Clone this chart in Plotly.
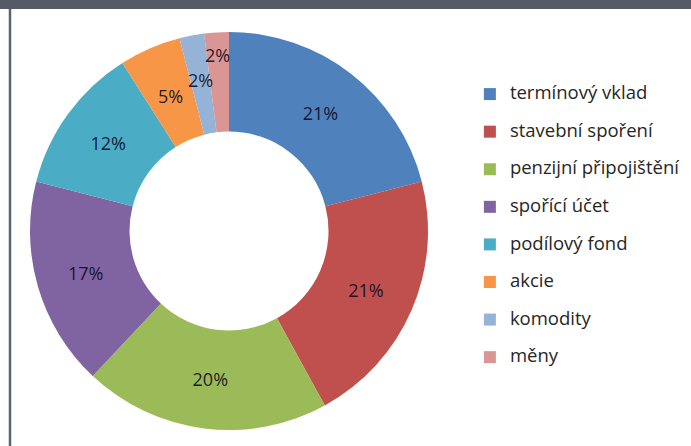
import math
import plotly.graph_objects as go

labels = ["termínový vklad", "stavební spoření", "penzijní připojištění",
          "spořící účet", "podílový fond", "akcie", "komodity", "měny"]
values = [21, 21, 20, 17, 12, 5, 2, 2]
colors = ["#4f81bd", "#c0504d", "#9bbb59", "#8064a2",
          "#4bacc6", "#f79646", "#95b3d7", "#da9694"]

W, H = 691, 446
cx, cy, r = 229, 231, 199
label_font = dict(family="Open Sans", size=18, color="rgba(10,10,30,0.9)")

# legend labels: larger text span plus a blank second line for Excel-like spacing
legend_names = ["<span style='font-size:18.5px'>%s</span><br> " % l for l in labels]

# small slices get their labels placed as annotations (radius factor per label)
small_label_radius = {5: 0.74, 6: 0.775, 7: 0.885}
texts = ["" if i in small_label_radius else "%{percent:.0%}" for i in range(len(values))]

fig = go.Figure(go.Pie(
    labels=legend_names,
    values=values,
    marker=dict(colors=colors, line=dict(width=0)),
    hole=0.5,
    sort=False,
    direction="clockwise",
    rotation=0,
    texttemplate=texts,
    textposition="inside",
    insidetextorientation="horizontal",
    textfont=label_font,
    hoverinfo="skip",
    domain=dict(x=[(cx - r) / W, (cx + r) / W],
                y=[(H - cy - r) / H, (H - cy + r) / H]),
))

total = sum(values)
annotations = []
cum = 0
for i, v in enumerate(values):
    start = cum
    cum += v
    if i in small_label_radius:
        mid = (start + cum) / 2 / total
        ang = math.radians(90 - 360 * mid)
        rr = r * small_label_radius[i]
        px = cx + rr * math.cos(ang)
        py = cy - rr * math.sin(ang)
        annotations.append(dict(
            x=px / W, y=1 - py / H, xref="paper", yref="paper",
            text="%d%%" % round(100 * v / total), showarrow=False,
            font=label_font, xanchor="center", yanchor="middle"))

fig.update_layout(
    width=W, height=H,
    margin=dict(l=0, r=0, t=0, b=0),
    paper_bgcolor="white",
    plot_bgcolor="white",
    uniformtext=dict(minsize=18, mode="show"),
    showlegend=True,
    legend=dict(
        x=0.68, y=0.823, xanchor="left", yanchor="top",
        font=dict(family="Open Sans", size=13.3, color="#262626"),
        valign="top",
        itemclick=False,
    ),
    annotations=annotations,
    shapes=[
        dict(type="rect", xref="paper", yref="paper",
             x0=0, x1=1, y0=1 - 9 / H, y1=1,
             fillcolor="#555b66", line=dict(width=0), layer="above"),
        dict(type="line", xref="paper", yref="paper",
             x0=10 / W, x1=10 / W, y0=0, y1=1 - 9 / H,
             line=dict(color="#5b6270", width=2.5)),
    ],
)

fig.write_html("out.html", config={"displayModeBar": False},
               post_script="document.body.style.margin='0';")
